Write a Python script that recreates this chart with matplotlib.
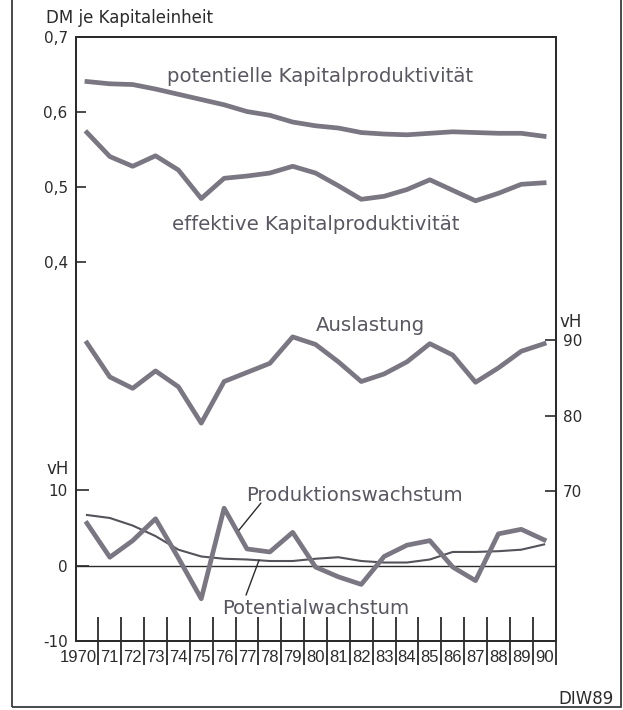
import numpy as np
import matplotlib.pyplot as plt
from matplotlib.patches import Rectangle
from matplotlib.transforms import ScaledTranslation

# values (1970-1990)
years = np.arange(1970, 1991)
year_labels = ["1970", "71", "72", "73", "74", "75", "76", "77", "78", "79", "80",
               "81", "82", "83", "84", "85", "86", "87", "88", "89", "90"]

pot_kp = [0.641, 0.638, 0.637, 0.631, 0.624, 0.617, 0.610, 0.601, 0.596, 0.587, 0.582,
          0.579, 0.573, 0.571, 0.570, 0.572, 0.574, 0.573, 0.572, 0.572, 0.568]
eff_kp = [0.573, 0.541, 0.528, 0.542, 0.523, 0.485, 0.512, 0.515, 0.519, 0.528, 0.519,
          0.502, 0.484, 0.488, 0.497, 0.510, 0.496, 0.482, 0.492, 0.504, 0.506]
auslastung = [89.6, 85.1, 83.6, 85.9, 83.8, 79.0, 84.5, 85.7, 86.9, 90.4, 89.4,
              87.1, 84.5, 85.5, 87.1, 89.5, 88.0, 84.4, 86.3, 88.5, 89.5]
prod_wachstum = [5.6, 1.1, 3.3, 6.2, 1.0, -4.4, 7.6, 2.2, 1.8, 4.4, -0.2,
                 -1.5, -2.5, 1.2, 2.7, 3.3, -0.2, -2.0, 4.2, 4.8, 3.4]
pot_wachstum = [6.7, 6.3, 5.3, 3.9, 2.1, 1.2, 0.9, 0.8, 0.6, 0.6, 0.9,
                1.1, 0.6, 0.4, 0.4, 0.8, 1.8, 1.8, 1.9, 2.1, 2.8]

kp_ticks = [0.4, 0.5, 0.6, 0.7]
kp_ticklabels = ["0,4", "0,5", "0,6", "0,7"]
vh_ticks = [-10, 0, 10]
vh_ticklabels = ["-10", "0", "10"]
ausl_ticks = [70, 80, 90]
ausl_ticklabels = ["70", "80", "90"]

line_c = "#7a7682"
text_c = "#5a5761"
ink = "#2b2b2b"
W, H = 623, 710

plt.rcParams["font.family"] = ["DejaVu Sans"]

fig = plt.figure(figsize=(W / 100, H / 100), dpi=100)
ax = fig.add_axes([76 / W, 69 / H, 480 / W, 603.7 / H])
axg = ax.twinx()
axa = ax.twinx()

ax.set_xlim(1969.52, 1990.52)
ax.set_ylim(-0.105, 0.7)
axg.set_ylim(-10, 70)
axa.set_ylim(50.2, 130)

for a in (ax, axg, axa):
    for s in a.spines.values():
        s.set_color(ink)
        s.set_linewidth(1.2)

# capital productivity (left upper scale)
ax.plot(years, pot_kp, color=line_c, lw=3.4)
ax.plot(years, eff_kp, color=line_c, lw=3.4)
ax.set_yticks(kp_ticks, labels=kp_ticklabels)
ax.tick_params(axis="y", direction="in", length=7, width=1.2, pad=6,
               labelsize=11, colors=ink)

# growth rates (left lower scale)
axg.axhline(0, color=ink, lw=1)
axg.plot(years, pot_wachstum, color="#55525a", lw=1.5)
axg.plot(years, prod_wachstum, color=line_c, lw=3.4)
axg.yaxis.set_ticks_position("left")
axg.set_yticks(vh_ticks, labels=vh_ticklabels)
axg.tick_params(axis="y", direction="in", length=9, width=1.2, pad=6,
                labelsize=11, colors=ink)

# utilisation (right scale)
axa.plot(years, auslastung, color=line_c, lw=3.4)
axa.set_yticks(ausl_ticks, labels=ausl_ticklabels)
axa.tick_params(axis="y", direction="in", length=8, width=1.2, pad=5,
                labelsize=11, colors=ink)

# x axis: separators at half years, labels at year centres
ax.set_xticks(np.arange(1970.5, 1991, 1))
ax.tick_params(axis="x", which="major", direction="inout", length=34, width=1.3,
               color=ink, labelbottom=False)
ax.set_xticks(years, labels=year_labels, minor=True)
ax.tick_params(axis="x", which="minor", length=0, pad=6.5, labelsize=12, colors=ink)
for lab in ax.get_xticklabels(minor=True):
    lab.set_fontfamily(["Liberation Sans", "DejaVu Sans"])
first = ax.get_xticklabels(minor=True)[0]
first.set_transform(first.get_transform() + ScaledTranslation(-6.5 / 72, 0, fig.dpi_scale_trans))

# curve labels
lab_kw = dict(color=text_c, fontsize=14.2, ha="center", va="baseline")
ax.text(1980.2, 0.6408, "potentielle Kapitalproduktivität", **lab_kw)
ax.text(1980.0, 0.443, "effektive Kapitalproduktivität", **lab_kw)
axa.text(1982.4, 91.2, "Auslastung", **lab_kw)
axg.text(1981.7, 8.54, "Produktionswachstum", **lab_kw)
axg.text(1980.0, -6.42, "Potentialwachstum", **lab_kw)

axg.annotate("", xy=(1976.65, 4.7), xytext=(1977.61, 8.28),
             arrowprops=dict(arrowstyle="-", lw=1, color=ink, shrinkA=0, shrinkB=0))
axg.annotate("", xy=(1977.53, 0.73), xytext=(1976.96, -3.91),
             arrowprops=dict(arrowstyle="-", lw=1, color=ink, shrinkA=0, shrinkB=0))

# unit labels and source
fig.text(46 / W, 1 - 22.7 / H, "DM je Kapitaleinheit", fontsize=12, color=ink, va="baseline")
fig.text(47 / W, 1 - 474 / H, "vH", fontsize=12, color=ink, va="baseline")
fig.text(560 / W, 1 - 327 / H, "vH", fontsize=12, color=ink, va="baseline")
fig.text(614 / W, 1 - 704 / H, "DIW89", fontsize=12, color=ink, va="baseline", ha="right")

# outer frame
fig.add_artist(Rectangle((12 / W, 3 / H), 609 / W, 720 / H, transform=fig.transFigure,
                         fill=False, lw=1.2, ec=ink))

fig.savefig("out.png", dpi=100)
